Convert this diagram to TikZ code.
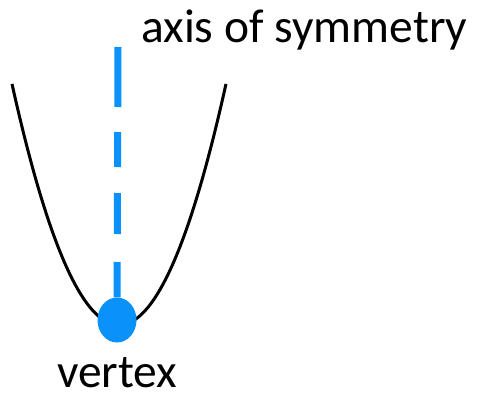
\documentclass[tikz,border=0pt]{standalone}
\usepackage{fontspec}
\setmainfont{Carlito}
\usetikzlibrary{shapes.geometric}
\definecolor{axisblue}{RGB}{10,145,250}
\tikzset{
  lbl/.style={anchor=base west,inner sep=0pt,font=\fontsize{47.5}{52}\selectfont},
  vdot/.style={ellipse,fill=axisblue,inner sep=0pt,minimum width=39pt,minimum height=45pt}
}
\begin{document}
\begin{tikzpicture}[x=1pt,y=-1pt]
\useasboundingbox (0,0) rectangle (477,400);

\draw[line width=3pt,domain=12:226,samples=80,smooth]
  plot (\x,{325-0.02105*(\x-119)*(\x-119)});

\node[vdot] (vtx) at (117,320) {};
\coordinate (axtop) at (118,47);
\draw[axisblue,line width=7pt,
  dash pattern=on 60pt off 25pt on 35pt off 26pt on 41pt off 28pt on 60pt]
  (axtop) -- (vtx.north);

\node[lbl] (axlabel) at (141,42) {axis of symmetry};
\node[lbl] (vlabel) at (57,387) {vertex};
\end{tikzpicture}
\end{document}
